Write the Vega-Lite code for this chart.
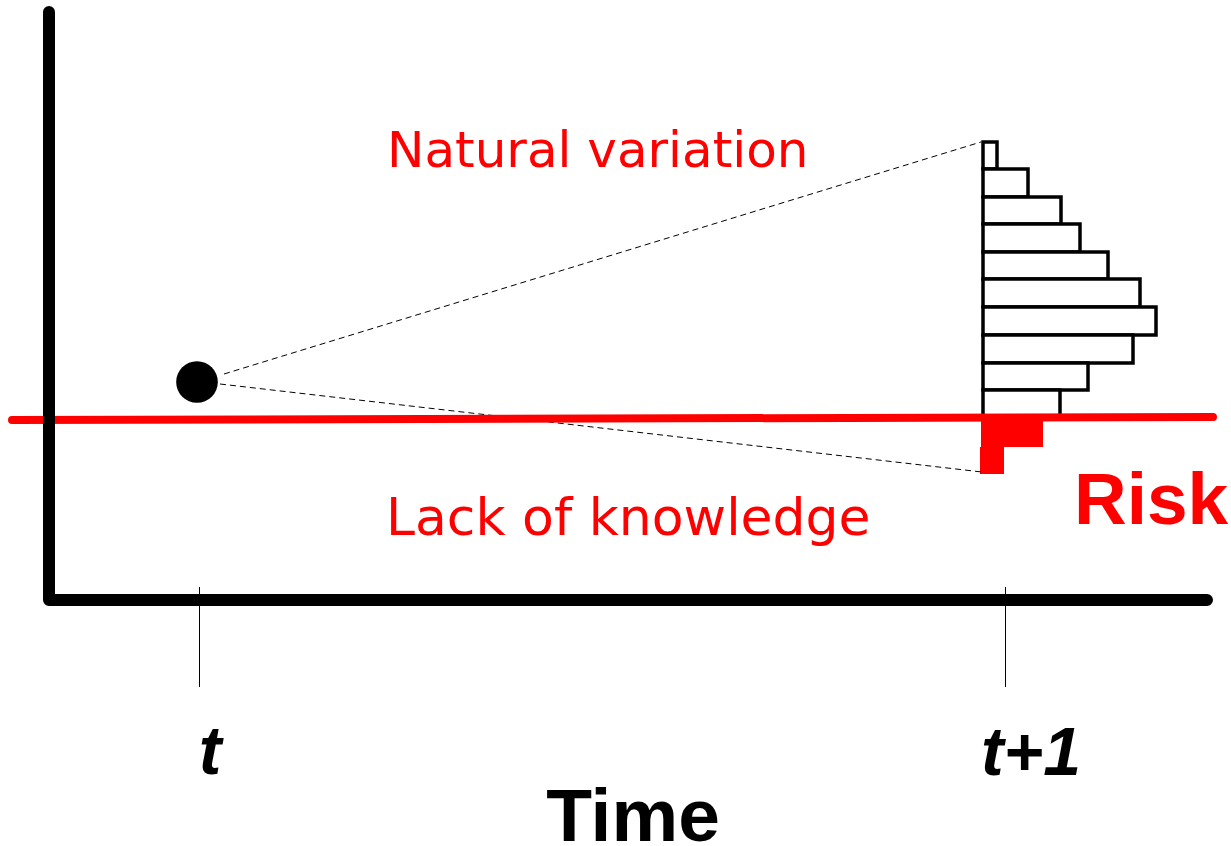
{
  "$schema": "https://vega.github.io/schema/vega-lite/v6.json",
  "width": 1231,
  "height": 846,
  "autosize": {"type": "none"},
  "padding": 0,
  "background": "white",
  "config": {"view": {"stroke": null}},
  "datasets": {
    "axes": [{"i": 0, "x": 49, "y": 12}, {"i": 1, "x": 49, "y": 600}, {"i": 2, "x": 1207, "y": 600}],
    "threshold": [{"i": 0, "x": 12, "y": 420}, {"i": 1, "x": 1213, "y": 417}],
    "ticks": [{"x": 199.5, "y": 587, "y2": 687}, {"x": 1005.5, "y": 587, "y2": 687}],
    "rays": [{"x": 224, "y": 374, "x2": 981, "y2": 142}, {"x": 220, "y": 384, "x2": 982, "y2": 472}],
    "state": [{"x": 197, "y": 382}],
    "hist": [
      {"x": 983, "x2": 997, "y": 142, "y2": 169},
      {"x": 983, "x2": 1028, "y": 169, "y2": 197},
      {"x": 983, "x2": 1061, "y": 197, "y2": 224},
      {"x": 983, "x2": 1080, "y": 224, "y2": 252},
      {"x": 983, "x2": 1108, "y": 252, "y2": 279},
      {"x": 983, "x2": 1140, "y": 279, "y2": 307},
      {"x": 983, "x2": 1156, "y": 307, "y2": 335},
      {"x": 983, "x2": 1133, "y": 335, "y2": 363},
      {"x": 983, "x2": 1088, "y": 363, "y2": 390},
      {"x": 983, "x2": 1060, "y": 390, "y2": 417}
    ],
    "risk": [
      {"x": 981, "x2": 1043, "y": 418, "y2": 447},
      {"x": 980, "x2": 1004, "y": 447, "y2": 474}
    ]
  },
  "layer": [
    {
      "data": {"name": "hist"},
      "mark": {"type": "rect", "fill": "white", "stroke": "black", "strokeWidth": 3.5},
      "encoding": {
        "x": {"field": "x", "type": "quantitative", "scale": {"domain": [0, 1231]}, "axis": null},
        "x2": {"field": "x2"},
        "y": {"field": "y", "type": "quantitative", "scale": {"domain": [0, 846], "reverse": true}, "axis": null},
        "y2": {"field": "y2"}
      }
    },
    {
      "data": {"name": "risk"},
      "mark": {"type": "rect", "fill": "#ff0000", "strokeWidth": 0},
      "encoding": {
        "x": {"field": "x", "type": "quantitative", "scale": {"domain": [0, 1231]}, "axis": null},
        "x2": {"field": "x2"},
        "y": {"field": "y", "type": "quantitative", "scale": {"domain": [0, 846], "reverse": true}, "axis": null},
        "y2": {"field": "y2"}
      }
    },
    {
      "data": {"name": "rays"},
      "mark": {"type": "rule", "color": "black", "strokeWidth": 1, "strokeDash": [6, 4]},
      "encoding": {
        "x": {"field": "x", "type": "quantitative", "scale": {"domain": [0, 1231]}, "axis": null},
        "x2": {"field": "x2"},
        "y": {"field": "y", "type": "quantitative", "scale": {"domain": [0, 846], "reverse": true}, "axis": null},
        "y2": {"field": "y2"}
      }
    },
    {
      "data": {"name": "threshold"},
      "mark": {"type": "line", "color": "#ff0000", "strokeWidth": 8, "strokeCap": "round"},
      "encoding": {
        "x": {"field": "x", "type": "quantitative", "scale": {"domain": [0, 1231]}, "axis": null},
        "y": {"field": "y", "type": "quantitative", "scale": {"domain": [0, 846], "reverse": true}, "axis": null},
        "order": {"field": "i"}
      }
    },
    {
      "data": {"name": "ticks"},
      "mark": {"type": "rule", "color": "black", "strokeWidth": 1},
      "encoding": {
        "x": {"field": "x", "type": "quantitative", "scale": {"domain": [0, 1231]}, "axis": null},
        "y": {"field": "y", "type": "quantitative", "scale": {"domain": [0, 846], "reverse": true}, "axis": null},
        "y2": {"field": "y2"}
      }
    },
    {
      "data": {"name": "axes"},
      "mark": {"type": "line", "color": "black", "strokeWidth": 12, "strokeCap": "round", "strokeJoin": "round"},
      "encoding": {
        "x": {"field": "x", "type": "quantitative", "scale": {"domain": [0, 1231]}, "axis": null},
        "y": {"field": "y", "type": "quantitative", "scale": {"domain": [0, 846], "reverse": true}, "axis": null},
        "order": {"field": "i"}
      }
    },
    {
      "data": {"name": "state"},
      "mark": {"type": "point", "shape": "circle", "filled": true, "color": "black", "opacity": 1, "size": 1735},
      "encoding": {
        "x": {"field": "x", "type": "quantitative", "scale": {"domain": [0, 1231]}, "axis": null},
        "y": {"field": "y", "type": "quantitative", "scale": {"domain": [0, 846], "reverse": true}, "axis": null}
      }
    },
    {
      "data": {"values": [{"x": 387, "y": 167, "label": "Natural variation"}]},
      "mark": {"type": "text", "align": "left", "baseline": "alphabetic", "font": "DejaVu Sans", "fontSize": 50, "color": "#ff0000"},
      "encoding": {
        "x": {"field": "x", "type": "quantitative", "scale": {"domain": [0, 1231]}, "axis": null},
        "y": {"field": "y", "type": "quantitative", "scale": {"domain": [0, 846], "reverse": true}, "axis": null},
        "text": {"field": "label"}
      }
    },
    {
      "data": {"values": [{"x": 386, "y": 535, "label": "Lack of knowledge"}]},
      "mark": {"type": "text", "align": "left", "baseline": "alphabetic", "font": "DejaVu Sans", "fontSize": 52, "color": "#ff0000"},
      "encoding": {
        "x": {"field": "x", "type": "quantitative", "scale": {"domain": [0, 1231]}, "axis": null},
        "y": {"field": "y", "type": "quantitative", "scale": {"domain": [0, 846], "reverse": true}, "axis": null},
        "text": {"field": "label"}
      }
    },
    {
      "data": {"values": [{"x": 1074, "y": 524, "label": "Risk"}]},
      "mark": {"type": "text", "align": "left", "baseline": "alphabetic", "font": "Liberation Sans", "fontWeight": "bold", "fontSize": 73, "color": "#ff0000"},
      "encoding": {
        "x": {"field": "x", "type": "quantitative", "scale": {"domain": [0, 1231]}, "axis": null},
        "y": {"field": "y", "type": "quantitative", "scale": {"domain": [0, 846], "reverse": true}, "axis": null},
        "text": {"field": "label"}
      }
    },
    {
      "data": {"values": [{"x": 633, "y": 841, "label": "Time"}]},
      "mark": {"type": "text", "align": "center", "baseline": "alphabetic", "font": "Liberation Sans", "fontWeight": "bold", "fontSize": 75, "color": "black"},
      "encoding": {
        "x": {"field": "x", "type": "quantitative", "scale": {"domain": [0, 1231]}, "axis": null},
        "y": {"field": "y", "type": "quantitative", "scale": {"domain": [0, 846], "reverse": true}, "axis": null},
        "text": {"field": "label"}
      }
    },
    {
      "data": {"values": [{"x": 210, "y": 774, "label": "t"}, {"x": 1031, "y": 775, "label": "t+1"}]},
      "mark": {"type": "text", "align": "center", "baseline": "alphabetic", "font": "Liberation Sans", "fontWeight": "bold", "fontStyle": "italic", "fontSize": 68, "color": "black"},
      "encoding": {
        "x": {"field": "x", "type": "quantitative", "scale": {"domain": [0, 1231]}, "axis": null},
        "y": {"field": "y", "type": "quantitative", "scale": {"domain": [0, 846], "reverse": true}, "axis": null},
        "text": {"field": "label"}
      }
    }
  ]
}
